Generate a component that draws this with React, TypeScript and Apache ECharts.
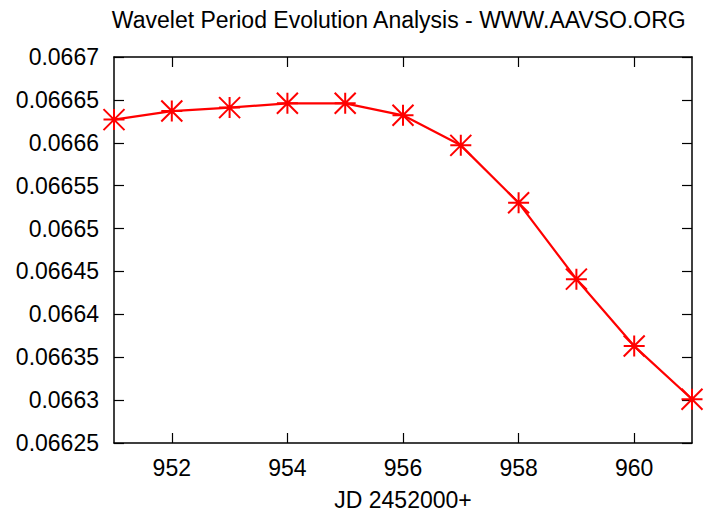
import React, { useEffect, useRef } from "react";
import * as echarts from "echarts";

const jd = [951, 952, 953, 954, 955, 956, 957, 958, 959, 960, 961];
const period = [0.066627, 0.066637, 0.066641, 0.066646, 0.066646, 0.066632, 0.066597, 0.06653, 0.066441, 0.066363, 0.066301];
const xTicks = [952, 954, 956, 958, 960];
const yTicks = [0.06625, 0.0663, 0.06635, 0.0664, 0.06645, 0.0665, 0.06655, 0.0666, 0.06665, 0.0667];

const FONT = "Liberation Sans";
const FS = 23;
const STAR = "path://M0,10L20,10M10,0L10,20M0,0L20,20M20,0L0,20";

export default function App() {
  const ref = useRef<HTMLDivElement>(null);
  useEffect(() => {
    const chart = echarts.init(ref.current!, null, { renderer: "svg" });
    const axisLine = { show: true, lineStyle: { color: "#000", width: 1.5 } };
    const tick = { show: true, inside: true, length: 10, lineStyle: { color: "#000", width: 1.2 } };
    chart.setOption({
      animation: false,
      backgroundColor: "#fff",
      title: {
        text: "Wavelet Period Evolution Analysis - WWW.AAVSO.ORG",
        right: 17,
        top: 8,
        padding: 0,
        textStyle: { fontFamily: FONT, fontSize: FS, fontWeight: "normal", color: "#000" },
      },
      grid: { left: 114, right: 12, top: 57, bottom: 70 },
      xAxis: [
        {
          type: "value",
          min: 951,
          max: 961,
          position: "bottom",
          name: "JD 2452000+",
          nameLocation: "middle",
          nameGap: 45,
          nameTextStyle: { fontFamily: FONT, fontSize: FS, color: "#000" },
          axisLine,
          axisTick: { ...tick, customValues: xTicks },
          axisLabel: { customValues: xTicks, margin: 13, fontFamily: FONT, fontSize: FS, color: "#000" },
          splitLine: { show: false },
        },
        {
          type: "value",
          min: 951,
          max: 961,
          position: "top",
          axisLine,
          axisTick: { ...tick, customValues: xTicks },
          axisLabel: { show: false },
          splitLine: { show: false },
        },
      ],
      yAxis: [
        {
          type: "value",
          min: 0.06625,
          max: 0.0667,
          position: "left",
          axisLine,
          axisTick: { ...tick, customValues: yTicks },
          axisLabel: { customValues: yTicks, margin: 15, fontFamily: FONT, fontSize: FS, color: "#000", formatter: (v: number) => String(v) },
          splitLine: { show: false },
        },
        {
          type: "value",
          min: 0.06625,
          max: 0.0667,
          position: "right",
          axisLine,
          axisTick: { ...tick, customValues: yTicks },
          axisLabel: { show: false },
          splitLine: { show: false },
        },
      ],
      series: [
        {
          type: "line",
          xAxisIndex: 0,
          yAxisIndex: 0,
          data: jd.map((x, i) => [x, period[i]]),
          symbol: STAR,
          symbolSize: 21,
          showAllSymbol: true,
          clip: false,
          lineStyle: { color: "#ff0000", width: 2.2 },
          itemStyle: { color: "none", borderColor: "#ff0000", borderWidth: 2 },
        },
      ],
    });
    return () => chart.dispose();
  }, []);
  return <div ref={ref} style={{ width: 704, height: 516, position: "absolute", left: 0, top: 0 }} />;
}
